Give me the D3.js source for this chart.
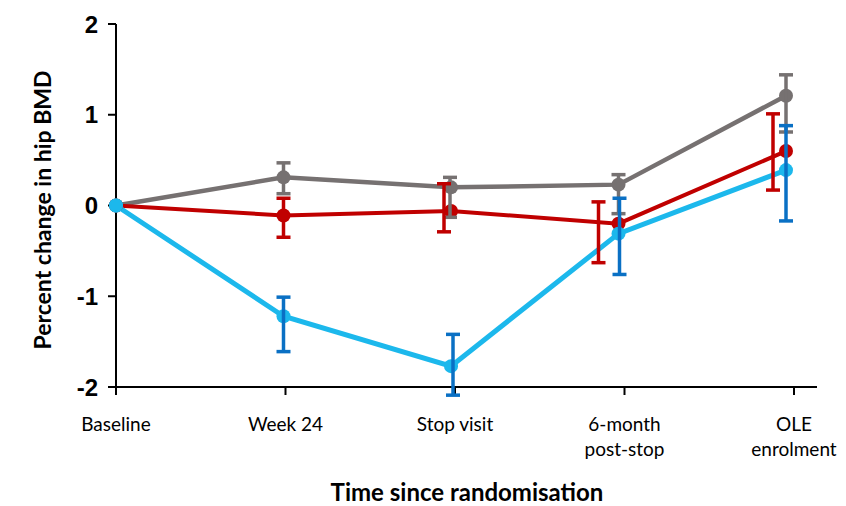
<!DOCTYPE html>
<html>
<head>
<meta charset="utf-8">
<script src="https://cdn.jsdelivr.net/npm/d3@7"></script>
<style>
  html, body { margin: 0; padding: 0; background: #fff; }
  svg { display: block; }
</style>
</head>
<body>
<div id="chart"></div>
<script>
// --- data ---
const timepoints = ["Baseline", "Week 24", "Stop visit", "6-month\npost-stop", "OLE\nenrolment"];
const yTicks = [-2, -1, 0, 1, 2];

const grayMean = [0, 0.31, 0.2, 0.23, 1.21];
const grayLow = [null, 0.13, -0.13, -0.09, 0.81];
const grayHigh = [null, 0.47, 0.31, 0.34, 1.44];

const redMean = [0, -0.11, -0.06, -0.2, 0.6];
const redLow = [null, -0.35, -0.29, -0.63, 0.17];
const redHigh = [null, 0.08, 0.24, 0.04, 1.01];

const blueMean = [0, -1.22, -1.77, -0.31, 0.39];
const blueLow = [null, -1.61, -2.09, -0.76, -0.17];
const blueHigh = [null, -1.01, -1.42, 0.08, 0.88];

const width = 846;
const height = 506;

const svg = d3
  .select("#chart")
  .append("svg")
  .attr("width", width)
  .attr("height", height);

// axis ticks sit a bit wider than the plotted points in the original
const xAxisScale = d3.scalePoint().domain(timepoints).range([116, 794]);
const x = d3.scalePoint().domain(timepoints).range([116, 786]);
const y = d3.scaleLinear().domain([-2, 2]).range([387, 24]);

const series = [
  { mean: grayMean, lo: grayLow, hi: grayHigh, line: "#767171", bar: "#767171", lw: 4.5, shift: [0, 0, -1, 0, 0] },
  { mean: redMean, lo: redLow, hi: redHigh, line: "#C00000", bar: "#C00000", lw: 4, shift: [0, 0, -7, -20, -13] },
  { mean: blueMean, lo: blueLow, hi: blueHigh, line: "#1CB8EC", bar: "#0A70C4", lw: 5, shift: [0, 0, 2, 1, 0] }
];

// --- axes ---
const axisG = svg.append("g").attr("stroke", "#000").attr("stroke-width", 2);
axisG.append("line")
  .attr("x1", 116).attr("x2", 116)
  .attr("y1", y(2)).attr("y2", y(-2) + 8);
axisG.append("line")
  .attr("x1", 116).attr("x2", 817)
  .attr("y1", y(-2)).attr("y2", y(-2));

axisG.selectAll(".ytick")
  .data(yTicks)
  .enter()
  .append("line")
  .attr("x1", 108).attr("x2", 116)
  .attr("y1", (d) => y(d)).attr("y2", (d) => y(d));

axisG.selectAll(".xtick")
  .data(timepoints)
  .enter()
  .append("line")
  .attr("x1", (d) => xAxisScale(d)).attr("x2", (d) => xAxisScale(d))
  .attr("y1", y(-2)).attr("y2", y(-2) + 8);

svg.append("g")
  .selectAll("text")
  .data(yTicks)
  .enter()
  .append("text")
  .attr("x", 98)
  .attr("y", (d) => y(d))
  .attr("dy", "0.36em")
  .attr("text-anchor", "end")
  .attr("font-family", "Liberation Sans, Arial, sans-serif")
  .attr("font-weight", "bold")
  .attr("font-size", 24)
  .text((d) => d);

const xLabels = svg.append("g")
  .selectAll("text")
  .data(timepoints)
  .enter()
  .append("text")
  .attr("x", (d) => xAxisScale(d))
  .attr("y", 431)
  .attr("text-anchor", "middle")
  .attr("font-family", "Lato, sans-serif")
  .attr("font-size", 19)
  .attr("fill", "#000");

xLabels.each(function (d) {
  const lines = d.split("\n");
  d3.select(this)
    .selectAll("tspan")
    .data(lines)
    .enter()
    .append("tspan")
    .attr("x", xAxisScale(d))
    .attr("dy", (l, i) => (i === 0 ? 0 : 25))
    .text((l) => l);
});

svg.append("text")
  .attr("x", 467)
  .attr("y", 501)
  .attr("text-anchor", "middle")
  .attr("font-family", "Lato, sans-serif")
  .attr("font-weight", "bold")
  .attr("font-size", 24)
  .text("Time since randomisation");

svg.append("text")
  .attr("transform", "translate(51,210) rotate(-90)")
  .attr("text-anchor", "middle")
  .attr("font-family", "Lato, sans-serif")
  .attr("font-weight", "bold")
  .attr("font-size", 23)
  .text("Percent change in hip BMD");

// --- series ---
const line = d3
  .line()
  .x((d, i) => x(timepoints[i]))
  .y((d) => y(d));

series.forEach((s) => {
  svg.append("path")
    .datum(s.mean)
    .attr("fill", "none")
    .attr("stroke", s.line)
    .attr("stroke-width", s.lw)
    .attr("d", line);
});

series.forEach((s) => {
  svg.append("g")
    .selectAll("circle")
    .data(s.mean)
    .enter()
    .append("circle")
    .attr("cx", (d, i) => x(timepoints[i]))
    .attr("cy", (d) => y(d))
    .attr("r", 7)
    .attr("fill", s.line);
});

series.forEach((s) => {
  const bars = s.mean
    .map((m, i) => ({ i: i, lo: s.lo[i], hi: s.hi[i] }))
    .filter((d) => d.lo !== null);
  const g = svg.append("g")
    .attr("stroke", s.bar)
    .attr("stroke-width", 3.5);
  const bx = (d) => x(timepoints[d.i]) + s.shift[d.i];
  g.selectAll(".v")
    .data(bars)
    .enter()
    .append("line")
    .attr("x1", bx).attr("x2", bx)
    .attr("y1", (d) => y(d.lo)).attr("y2", (d) => y(d.hi));
  g.selectAll(".top")
    .data(bars)
    .enter()
    .append("line")
    .attr("x1", (d) => bx(d) - 7).attr("x2", (d) => bx(d) + 7)
    .attr("y1", (d) => y(d.hi)).attr("y2", (d) => y(d.hi));
  g.selectAll(".bot")
    .data(bars)
    .enter()
    .append("line")
    .attr("x1", (d) => bx(d) - 7).attr("x2", (d) => bx(d) + 7)
    .attr("y1", (d) => y(d.lo)).attr("y2", (d) => y(d.lo));
});

// blue baseline marker sits on top in the original
svg.append("circle")
  .attr("cx", x(timepoints[0]))
  .attr("cy", y(blueMean[0]))
  .attr("r", 7)
  .attr("fill", "#1CB8EC");
</script>
</body>
</html>
